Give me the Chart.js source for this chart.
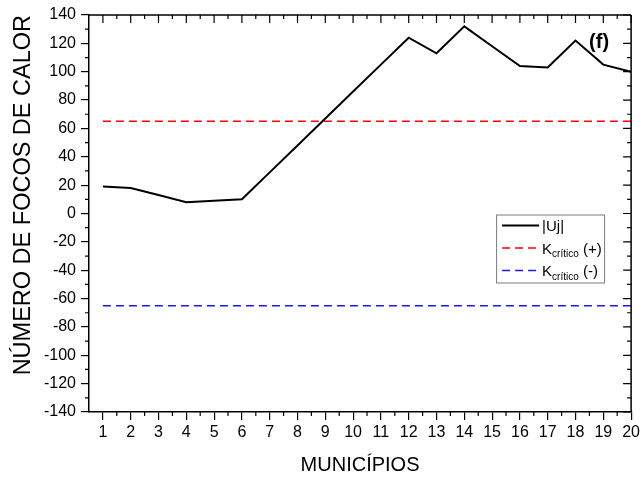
<!DOCTYPE html>
<html>
<head>
<meta charset="utf-8">
<script src="https://cdn.jsdelivr.net/npm/chart.js@4"></script>
<style>
  html, body { margin: 0; padding: 0; background: #fff; }
  #wrap { width: 643px; height: 479px; position: relative; }
</style>
</head>
<body>
<div id="wrap"><canvas id="c" width="643" height="479"></canvas></div>
<script>
// Municipalities (x categories) and the |Uj| statistic for each one
const municipios = [1, 2, 3, 4, 5, 6, 7, 8, 9, 10, 11, 12, 13, 14, 15, 16, 17, 18, 19, 20];
const uj = [19, 18, 13, 8, 9, 10, 29, 48, 67, 86, 105, 124, 113, 132, 118, 104, 103, 122, 105, 100];

// Critical values of the test
const kCriticoPos = 65;
const kCriticoNeg = -65;

// Axis tick values
const yTickValues = [-140, -120, -100, -80, -60, -40, -20, 0, 20, 40, 60, 80, 100, 120, 140];
const xTickValues = municipios;

// Legend entries: main text, subscript, trailing text
const legendMain = ['|Uj|', 'K', 'K'];
const legendSub = ['', 'crítico', 'crítico'];
const legendTail = ['', ' (+)', ' (-)'];

const panelLabel = '(f)';
const yTitle = 'NÚMERO DE FOCOS DE CALOR';
const xTitle = 'MUNICÍPIOS';

const FONT = "'Liberation Sans', Arial, Helvetica, sans-serif";

const toPoints = (vals) => municipios.map((m, i) => ({ x: m, y: vals[i] }));

// Frame, minor ticks, mirrored ticks, panel tag, legend and y title
const decorPlugin = {
  id: 'decor',
  afterDraw(chart) {
    const { ctx, chartArea: a, scales: { x, y } } = chart;
    ctx.save();
    ctx.strokeStyle = '#000';
    ctx.lineWidth = 1.5;
    // top and right frame lines
    ctx.beginPath();
    ctx.moveTo(a.left, a.top); ctx.lineTo(a.right, a.top);
    ctx.moveTo(a.right, a.top); ctx.lineTo(a.right, a.bottom);
    ctx.stroke();

    const MAJ = 8, MIN = 4;
    ctx.lineWidth = 1.2;
    ctx.beginPath();
    // x: major ticks on top (inward), minor ticks top and bottom
    xTickValues.forEach((v) => {
      const px = x.getPixelForValue(v);
      ctx.moveTo(px, a.top); ctx.lineTo(px, a.top + MAJ);
    });
    for (let i = 0; i < xTickValues.length - 1; i++) {
      const px = x.getPixelForValue((xTickValues[i] + xTickValues[i + 1]) / 2);
      ctx.moveTo(px, a.top); ctx.lineTo(px, a.top + MIN);
      ctx.moveTo(px, a.bottom); ctx.lineTo(px, a.bottom + MIN);
    }
    // y: major ticks on right (inward), minor ticks left and right
    yTickValues.forEach((v) => {
      const py = y.getPixelForValue(v);
      ctx.moveTo(a.right, py); ctx.lineTo(a.right - MAJ, py);
    });
    for (let i = 0; i < yTickValues.length - 1; i++) {
      const py = y.getPixelForValue((yTickValues[i] + yTickValues[i + 1]) / 2);
      ctx.moveTo(a.left, py); ctx.lineTo(a.left - MIN, py);
      ctx.moveTo(a.right, py); ctx.lineTo(a.right - MIN, py);
    }
    ctx.stroke();

    // panel tag
    ctx.fillStyle = '#000';
    ctx.font = 'bold 20px ' + FONT;
    ctx.textAlign = 'center';
    ctx.textBaseline = 'middle';
    ctx.fillText(panelLabel, a.right - 32, a.top + 27);

    // y axis title, end of text aligned with the top of the plot
    ctx.save();
    ctx.font = '23.5px ' + FONT;
    ctx.translate(24, a.top);
    ctx.rotate(-Math.PI / 2);
    ctx.textAlign = 'right';
    ctx.textBaseline = 'middle';
    ctx.fillText(yTitle, 0, 0);
    ctx.restore();

    // legend box
    const bw = 108, bh = 68;
    const bx = a.right - 27 - bw;
    const by = y.getPixelForValue(0) + 1;
    ctx.fillStyle = '#fff';
    ctx.fillRect(bx, by, bw, bh);
    ctx.strokeStyle = '#7a7a7a';
    ctx.lineWidth = 1;
    ctx.strokeRect(bx + 0.5, by + 0.5, bw, bh);

    chart.data.datasets.forEach((ds, i) => {
      const cy = by + 11 + i * 22.5;
      ctx.save();
      ctx.strokeStyle = ds.borderColor;
      ctx.lineWidth = ds.borderWidth;
      ctx.setLineDash(ds.borderDash || []);
      ctx.beginPath();
      ctx.moveTo(bx + 6, cy);
      ctx.lineTo(bx + 43, cy);
      ctx.stroke();
      ctx.restore();

      ctx.fillStyle = '#000';
      ctx.textAlign = 'left';
      ctx.textBaseline = 'alphabetic';
      const base = cy + 5.5;
      let tx = bx + 46;
      ctx.font = '15px ' + FONT;
      ctx.fillText(legendMain[i], tx, base);
      tx += ctx.measureText(legendMain[i]).width;
      if (legendSub[i]) {
        ctx.font = '10px ' + FONT;
        ctx.fillText(legendSub[i], tx, base + 3.5);
        tx += ctx.measureText(legendSub[i]).width;
      }
      if (legendTail[i]) {
        ctx.font = '15px ' + FONT;
        ctx.fillText(legendTail[i], tx, base);
      }
    });
    ctx.restore();
  }
};

new Chart(document.getElementById('c'), {
  type: 'line',
  data: {
    datasets: [
      {
        label: '|Uj|',
        data: toPoints(uj),
        borderColor: '#000',
        borderWidth: 2,
        pointRadius: 0,
        tension: 0,
        fill: false
      },
      {
        label: 'Kcrítico (+)',
        data: toPoints(municipios.map(() => kCriticoPos)),
        borderColor: '#ff0000',
        borderWidth: 1.5,
        borderDash: [8, 5],
        pointRadius: 0,
        fill: false
      },
      {
        label: 'Kcrítico (-)',
        data: toPoints(municipios.map(() => kCriticoNeg)),
        borderColor: '#1a1ae6',
        borderWidth: 1.5,
        borderDash: [8, 5],
        pointRadius: 0,
        fill: false
      }
    ]
  },
  options: {
    responsive: false,
    animation: false,
    devicePixelRatio: 1,
    layout: { padding: { top: 15, right: 11, bottom: 0, left: 0 } },
    plugins: {
      legend: { display: false },
      tooltip: { enabled: false }
    },
    scales: {
      x: {
        type: 'linear',
        min: 0.5,
        max: 20,
        afterBuildTicks: (s) => { s.ticks = xTickValues.map((v) => ({ value: v })); },
        afterFit: (s) => { s.height = 67; },
        ticks: {
          autoSkip: false,
          maxRotation: 0,
          padding: 3,
          color: '#000',
          font: { family: FONT, size: 16 }
        },
        grid: { display: true, drawOnChartArea: false, drawTicks: true, tickLength: 8, color: '#000', lineWidth: 1.2 },
        border: { display: true, color: '#000', width: 1.5 },
        title: {
          display: true,
          text: xTitle,
          color: '#000',
          font: { family: FONT, size: 20 },
          padding: { top: 0, bottom: 2 }
        }
      },
      y: {
        min: -140,
        max: 140,
        afterBuildTicks: (s) => { s.ticks = yTickValues.map((v) => ({ value: v })); },
        afterFit: (s) => { s.width = 89; },
        ticks: {
          padding: 5,
          color: '#000',
          font: { family: FONT, size: 16 }
        },
        grid: { display: true, drawOnChartArea: false, drawTicks: true, tickLength: 8, color: '#000', lineWidth: 1.2 },
        border: { display: true, color: '#000', width: 1.5 }
      }
    }
  },
  plugins: [decorPlugin]
});
</script>
</body>
</html>
